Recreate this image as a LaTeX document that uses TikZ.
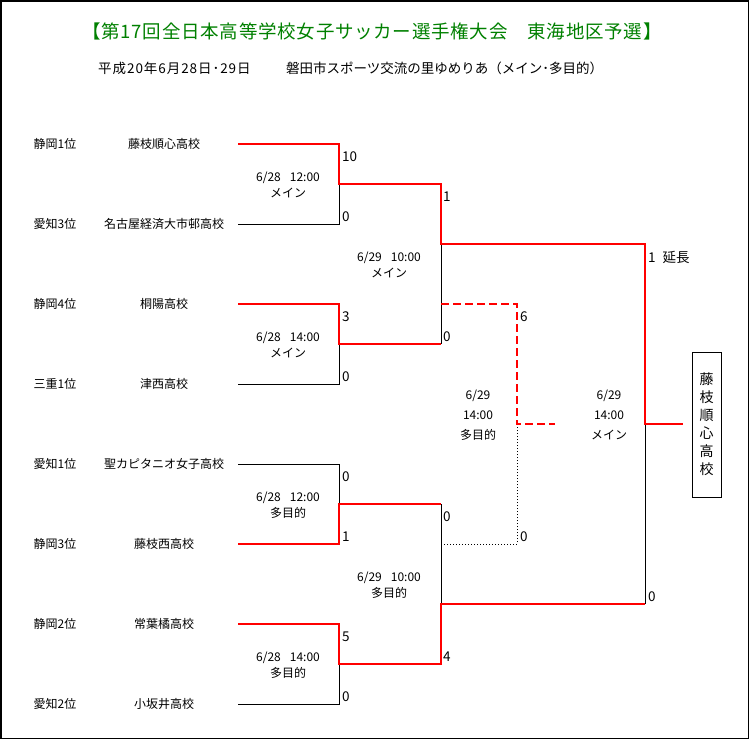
\documentclass[tikz,border=0pt]{standalone}
\usepackage{fontspec}
\setmainfont{Noto Sans CJK JP}
\definecolor{titlegreen}{RGB}{0,128,0}
\definecolor{winred}{RGB}{255,0,0}
\begin{document}
\begin{tikzpicture}[x=1pt,y=-1pt,
  win/.style={draw=winred, line width=2pt},
  lose/.style={draw=black, line width=0.9pt},
  windash/.style={win, dash pattern=on 8pt off 4pt},
  losedot/.style={lose, dash pattern=on 1pt off 2pt},
  lbl/.style={inner sep=0pt, font=\fontsize{12}{14}\selectfont},
  score/.style={lbl, anchor=west, font=\fontsize{13.5}{15}\selectfont},
  info/.style={lbl, align=center, font=\fontsize{12}{16}\selectfont},
  infothree/.style={lbl, align=center, font=\fontsize{12}{20}\selectfont},
  titlestyle/.style={inner sep=0pt, text=titlegreen, font=\fontsize{18.5}{20}\selectfont\addfontfeatures{LetterSpace=4}},
  substyle/.style={inner sep=0pt, anchor=west, font=\fontsize{13.5}{15}\selectfont},
  champbox/.style={draw, line width=0.9pt, inner sep=0pt, minimum width=29pt, minimum height=145pt, align=center, font=\fontsize{14}{18}\selectfont},
]
\useasboundingbox (0,0) rectangle (750,740);
\draw[line width=1.5pt] (0.75,0.75) rectangle (748.5,738.5);

% title
\node[titlestyle] (title) at (372,31) {【第17回全日本高等学校女子サッカー選手権大会\hspace{20pt}東海地区予選】};
\node[substyle] (sub1) at (98,68) {\addfontfeatures{LetterSpace=7}平成20年6月28日･29日};
\node[substyle] (sub2) at (286,68) {磐田市スポーツ交流の里ゆめりあ（メイン･多目的）};

% seeds
\node[lbl] (seed1) at (55,144) {静岡1位};
\node[lbl] (seed2) at (55,224) {愛知3位};
\node[lbl] (seed3) at (55,304) {静岡4位};
\node[lbl] (seed4) at (55,384) {三重1位};
\node[lbl] (seed5) at (55,464) {愛知1位};
\node[lbl] (seed6) at (55,544) {静岡3位};
\node[lbl] (seed7) at (55,624) {静岡2位};
\node[lbl] (seed8) at (55,704) {愛知2位};

% teams
\node[lbl] (team1) at (164,144) {藤枝順心高校};
\node[lbl] (team2) at (164,224) {名古屋経済大市邨高校};
\node[lbl] (team3) at (164,304) {桐陽高校};
\node[lbl] (team4) at (164,384) {津西高校};
\node[lbl] (team5) at (164,464) {聖カピタニオ女子高校};
\node[lbl] (team6) at (164,544) {藤枝西高校};
\node[lbl] (team7) at (164,624) {常葉橘高校};
\node[lbl] (team8) at (164,704) {小坂井高校};

% coordinates
\coordinate (t1) at (238,144);
\coordinate (t2) at (238,224);
\coordinate (t3) at (238,304);
\coordinate (t4) at (238,384);
\coordinate (t5) at (238,464);
\coordinate (t6) at (238,544);
\coordinate (t7) at (238,624);
\coordinate (t8) at (238,704);
\coordinate (m1) at (339,184);
\coordinate (m2) at (339,344);
\coordinate (m3) at (339,504);
\coordinate (m4) at (339,664);
\coordinate (s1) at (441,244);
\coordinate (s1b) at (441,344);
\coordinate (s1c) at (441,304);
\coordinate (s2) at (441,604);
\coordinate (s2b) at (441,504);
\coordinate (s2c) at (441,544);
\coordinate (f) at (645,424);
\coordinate (fb) at (645,604);
\coordinate (fend) at (683,424);
\coordinate (tp) at (517,424);
\coordinate (tpend) at (555,424);

% losing lines
\draw[lose] (t2) -| (m1);
\draw[lose] (t4) -| (m2);
\draw[lose] (t5) -| (m3);
\draw[lose] (t8) -| (m4);
\draw[lose] (s1b) -- (s1);
\draw[lose] (s2b) -- (s2);
\draw[lose] (fb) -- (f);
\draw[losedot] (s2c) -| (tp);

% winning lines
\draw[win] (t1) -| (m1) -| (s1) -| (f) -- (fend);
\draw[win] (t3) -| (m2) -- (s1b);
\draw[win] (t6) -| (m3) -- (s2b);
\draw[win] (t7) -| (m4) -| (s2) -- (fb);
\draw[windash] (s1c) -| (tp) -- (tpend);

% match info
\node[info] (i1) at (288,185) {6/28\hspace{9pt}12:00\\メイン};
\node[info] (i2) at (288,345) {6/28\hspace{9pt}14:00\\メイン};
\node[info] (i3) at (288,505) {6/28\hspace{9pt}12:00\\多目的};
\node[info] (i4) at (288,665) {6/28\hspace{9pt}14:00\\多目的};
\node[info] (i5) at (389,265) {6/29\hspace{9pt}10:00\\メイン};
\node[info] (i6) at (389,585) {6/29\hspace{9pt}10:00\\多目的};
\node[infothree] (i7) at (478,415) {6/29\\14:00\\多目的};
\node[infothree] (i8) at (609,415) {6/29\\14:00\\メイン};

% scores
\node[score] (sc1) at (342,157) {10};
\node[score] (sc2) at (342,217) {0};
\node[score] (sc3) at (342,317) {3};
\node[score] (sc4) at (342,377) {0};
\node[score] (sc5) at (342,477) {0};
\node[score] (sc6) at (342,537) {1};
\node[score] (sc7) at (342,637) {5};
\node[score] (sc8) at (342,697) {0};
\node[score] (sc9) at (443,197) {1};
\node[score] (sc10) at (443,337) {0};
\node[score] (sc11) at (443,517) {0};
\node[score] (sc12) at (443,657) {4};
\node[score] (sc13) at (520,317) {6};
\node[score] (sc14) at (520,537) {0};
\node[score] (sc15) at (648,257) {1\hspace{7pt}延長};
\node[score] (sc16) at (648,597) {0};

% champion
\node[champbox] (champ) at (706.5,424.5) {藤\\枝\\順\\心\\高\\校};
\end{tikzpicture}
\end{document}
